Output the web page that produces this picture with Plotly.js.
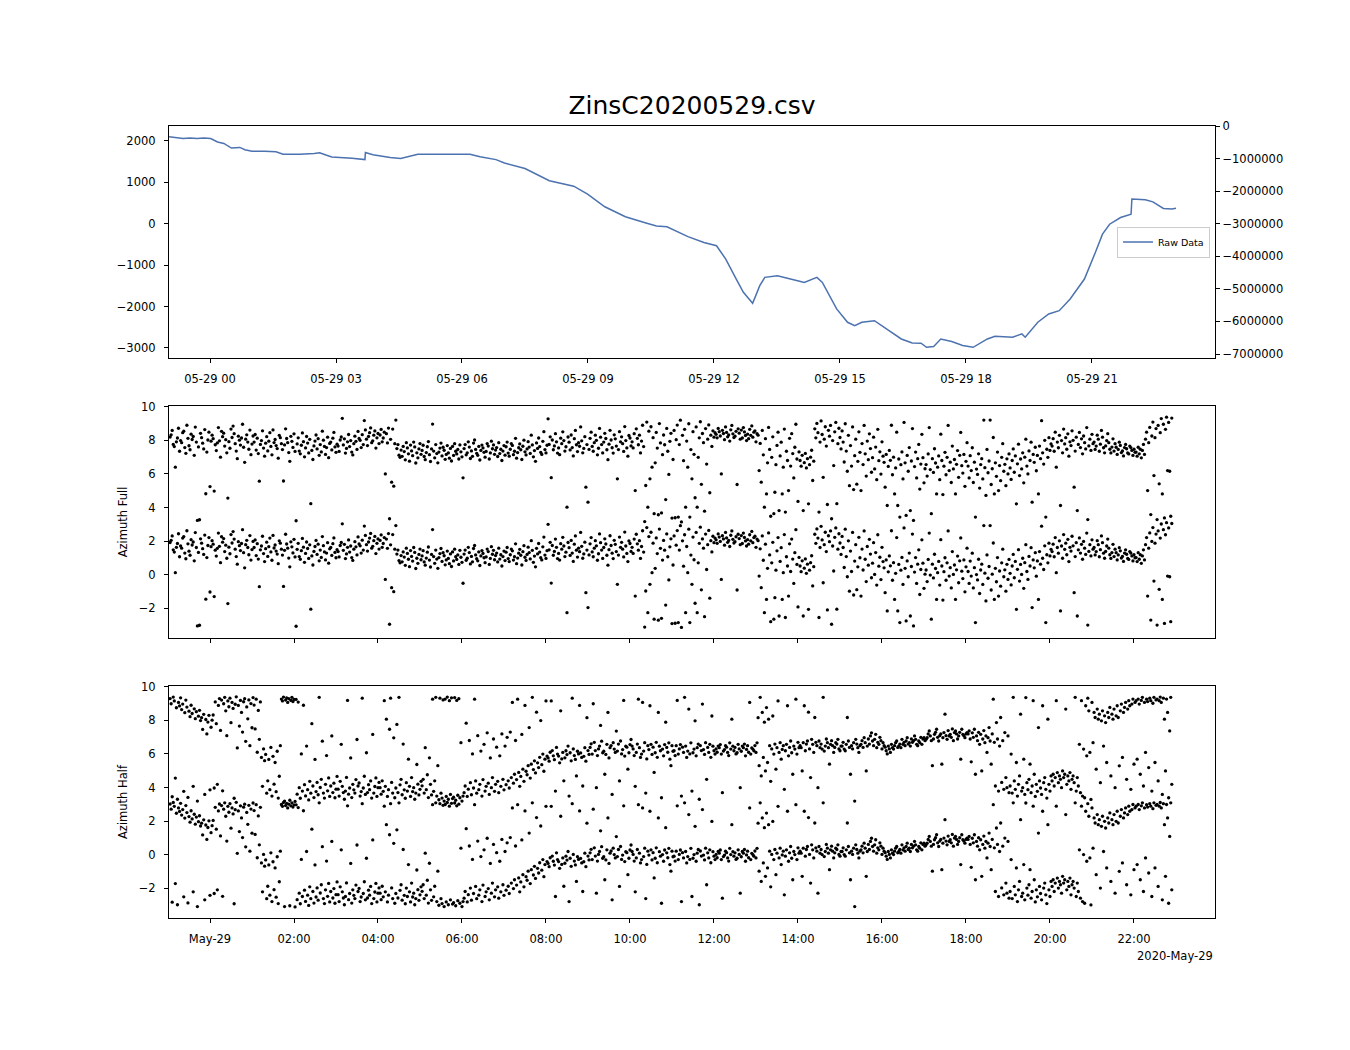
<!DOCTYPE html>
<html><head><meta charset="utf-8">
<script src="https://cdn.plot.ly/plotly-3.0.1.min.js"></script>
<style>body{margin:0;background:#fff}#chart{width:1350px;height:1050px}</style>
</head><body><div id="chart"></div>
<script>
const TITLE = 'ZinsC20200529.csv';
const OFFSET_TEXT = '2020-May-29';

// Raw data line: hours relative to 2020-05-29 00:00, value
const lineHours = [-0.976,-0.8,-0.64,-0.476,-0.31,-0.15,0.017,0.18,0.33,0.51,0.71,0.83,1.0,1.3,1.57,1.74,2.14,2.48,2.61,2.76,2.9,3.38,3.69,3.70,3.88,4.29,4.54,4.95,5.48,6.19,6.43,6.81,7.01,7.5,8.08,8.66,8.99,9.4,9.89,10.07,10.22,10.38,10.63,10.88,11.38,11.67,11.76,12.06,12.28,12.53,12.7,12.92,13.09,13.21,13.51,13.99,14.15,14.45,14.58,14.92,15.18,15.35,15.52,15.82,16.12,16.46,16.72,16.93,17.06,17.23,17.4,17.66,17.92,18.17,18.51,18.69,19.11,19.33,19.41,19.71,19.97,20.22,20.48,20.82,21.08,21.25,21.42,21.68,21.93,21.95,22.27,22.45,22.7,22.9,23.0];
const lineValues = [2100,2085,2060,2075,2060,2070,2060,1976,1940,1830,1845,1790,1755,1750,1738,1680,1680,1700,1715,1660,1615,1580,1550,1720,1670,1600,1575,1680,1680,1680,1620,1550,1470,1334,1040,908,716,411,170,120,60,20,-55,-71,-311,-432,-452,-531,-852,-1335,-1656,-1922,-1495,-1294,-1253,-1374,-1415,-1294,-1415,-2057,-2379,-2460,-2379,-2340,-2540,-2782,-2879,-2886,-2983,-2966,-2782,-2845,-2941,-2983,-2782,-2717,-2741,-2660,-2741,-2379,-2178,-2098,-1816,-1335,-693,-251,-10,152,232,600,578,530,370,360,377];

// Scatter samples: one row per hour, starting 2020-05-28 23:03, one sample every 1.5 min
const sampleStartHour = -0.95;
const sampleStepMin = 1.5;

// Azimuth Full (radians, -pi..pi); plotted at value and value + 2*pi
const fullRows = [
[1.92,2.05,2.31,1.48,1.35,0.12,1.63,1.86,2.44,1.07,1.71,1.58,2.18,2.27,1.29,0.95,2.62,1.84,1.40,1.16,2.09,1.77,1.95,0.83,2.51,1.62,-3.05,1.33,-3.01,2.14,1.88,1.55,1.21,2.36,-1.46,1.02,1.74,2.21,-1.03,1.67],
[2.03,1.82,-1.30,1.46,1.11,1.57,2.48,1.69,0.72,2.26,1.94,2.15,1.38,1.76,0.98,-1.72,1.64,1.25,2.39,1.89,2.57,2.12,1.52,1.08,0.63,1.97,1.73,1.44,1.86,2.68,1.31,0.41,1.79,2.05,1.62,1.19,2.33,0.87,1.50,1.98],
[1.62,2.07,1.14,1.85,0.93,-0.71,1.48,1.71,2.29,1.26,0.78,1.55,1.94,1.09,1.67,2.18,1.36,0.86,2.34,1.59,1.77,1.41,1.23,0.66,2.02,1.88,1.52,1.17,-0.70,1.45,2.41,1.83,1.58,0.99,0.47,1.96,1.66,1.30,2.11,1.06],
[-3.07,1.51,1.87,1.08,0.92,1.43,2.16,1.64,0.74,1.27,1.95,1.56,0.97,1.78,-2.05,1.12,0.58,1.39,1.68,2.04,1.21,1.82,0.83,1.47,1.03,2.27,1.73,1.36,0.88,1.29,1.91,0.69,1.54,1.62,1.15,1.85,2.19,1.33,1.01,1.49],
[1.38,1.06,1.74,1.92,3.03,1.45,1.81,0.96,1.24,1.63,2.07,1.35,1.71,1.02,0.85,1.52,1.97,1.66,1.18,2.25,1.83,1.72,1.29,2.06,1.47,2.90,2.34,1.79,1.41,1.95,2.18,2.46,1.58,1.69,2.03,2.28,1.26,1.87,2.13,1.53],
[2.04,2.37,1.63,1.86,2.21,-0.28,2.12,1.57,2.45,-2.95,1.78,-0.77,2.39,-1.01,1.52,2.93,1.23,1.47,0.84,0.71,1.14,0.77,1.36,1.05,0.56,1.58,1.27,0.92,0.48,1.44,1.09,0.81,1.62,1.33,0.37,0.98,0.68,1.21,1.53,0.89],
[1.12,1.43,0.76,0.57,0.99,1.34,1.65,0.87,0.46,1.21,2.69,1.08,0.68,1.47,0.93,0.38,1.02,1.26,1.56,0.79,1.31,1.13,0.59,0.88,1.41,0.97,0.66,1.24,0.49,1.36,0.82,1.52,1.07,0.91,1.18,0.61,1.45,1.04,0.74,-0.51],
[1.23,1.47,0.86,0.98,1.63,1.32,0.64,1.09,0.77,1.56,1.74,1.18,0.95,0.83,1.36,0.55,1.12,1.44,1.27,1.01,0.72,1.06,1.53,1.38,0.61,0.97,1.67,1.22,1.45,0.89,1.14,1.29,0.76,1.58,0.93,1.19,0.52,1.08,1.41,0.84],
[1.34,1.62,0.96,0.78,1.19,1.53,1.42,0.87,1.07,1.84,0.66,0.99,1.28,1.51,1.16,0.58,1.37,1.73,1.04,0.85,1.21,1.64,1.32,0.94,2.03,1.45,0.74,1.11,0.47,1.57,1.24,1.86,1.35,1.01,0.88,1.66,2.24,1.17,0.97,1.43],
[3.00,1.48,1.93,-0.50,1.74,1.16,1.39,2.12,1.63,0.96,1.27,0.87,1.85,1.52,2.23,1.71,1.08,1.34,-2.26,1.92,1.61,1.15,2.04,1.29,0.79,1.82,2.31,1.46,1.05,1.58,1.37,2.52,1.69,0.98,1.24,1.94,-1.07,1.47,-1.96,1.18],
[1.84,2.21,1.36,1.07,1.58,2.03,1.72,0.86,1.25,2.43,1.91,1.47,0.97,1.62,2.14,1.83,1.16,0.57,1.49,2.32,1.74,1.28,0.96,2.05,1.81,1.38,-0.57,1.17,2.24,1.63,1.93,1.52,1.06,2.54,1.71,1.27,0.78,2.01,1.86,1.39],
[1.63,1.27,2.12,-1.27,2.41,1.84,1.46,2.03,0.97,1.68,2.62,1.35,-3.12,-0.97,2.81,-2.26,2.27,-0.57,2.53,0.12,1.88,-2.65,0.38,2.19,1.26,-2.71,2.72,1.57,-2.60,0.87,2.04,1.46,-1.81,2.43,1.07,-0.31,1.66,2.14,-2.91,0.58],
[2.31,-2.89,1.76,2.63,-2.85,1.47,2.92,-3.14,2.02,0.51,2.38,-2.26,1.68,0.12,2.71,-2.85,1.17,-0.57,2.24,0.89,-1.70,2.52,-2.26,0.71,1.87,2.83,-0.90,2.13,1.58,-2.50,2.42,0.31,1.79,2.64,-1.40,2.03,1.36,2.29,1.91,2.18],
[2.08,1.87,2.43,2.24,1.98,-0.28,2.32,2.13,1.76,2.52,2.19,1.93,2.04,1.68,2.35,2.61,2.11,1.89,1.97,2.26,-0.91,2.41,2.15,1.79,2.33,1.86,2.48,2.22,2.01,1.71,2.09,1.82,2.38,2.02,2.58,1.91,2.21,2.29,1.63,2.12],
[2.03,-0.08,1.54,-0.77,2.31,0.86,-2.26,1.82,-1.47,0.38,2.49,1.18,-2.80,0.71,1.93,-2.65,-1.37,0.27,1.42,2.21,-2.46,0.79,1.61,-1.47,0.12,2.39,-2.55,1.07,0.52,-1.27,1.84,0.19,2.12,0.93,-0.52,1.31,2.68,0.61,-1.92,1.03],
[0.52,0.18,0.83,-2.46,0.39,0.94,0.08,0.63,-2.06,0.27,0.72,1.13,-0.67,0.48,2.41,1.87,2.73,2.18,-2.55,1.62,2.88,2.07,-0.48,1.79,2.53,1.38,-2.10,2.32,1.97,2.61,-2.95,1.71,0.22,2.23,2.79,-2.05,1.52,2.44,1.89,1.21],
[2.28,1.62,0.43,2.71,1.08,-0.12,2.02,-0.98,1.41,0.19,2.52,-1.21,0.81,1.79,-0.89,0.47,2.23,1.01,-1.27,1.53,0.28,2.61,0.92,-0.41,1.68,0.57,2.11,1.23,-0.18,0.69,1.91,0.02,1.32,-0.62,2.38,0.51,1.04,-0.29,1.63,0.78],
[0.41,-1.07,0.88,-2.16,0.17,1.12,0.53,2.62,-0.33,0.72,-1.47,0.08,2.21,-2.16,0.61,-2.85,0.27,1.03,-0.58,2.79,0.38,-2.75,0.82,-0.12,1.29,-2.46,0.49,2.42,-3.05,0.16,1.02,-0.52,0.63,1.48,-1.18,0.31,2.08,0.69,-0.81,0.03],
[0.28,-0.41,0.91,2.48,-0.02,-2.65,0.63,-0.19,1.22,0.37,-1.47,0.12,0.79,-0.62,2.09,0.52,-1.51,0.18,1.01,-0.33,0.71,2.61,-0.08,0.42,-0.79,1.38,0.02,0.58,-1.47,0.29,1.11,-0.48,0.83,2.19,0.21,-0.23,0.88,-1.02,0.47,1.58],
[0.19,-0.52,0.81,-0.08,1.28,-0.79,0.42,-2.85,0.01,-0.31,0.92,-1.12,0.28,0.63,-0.58,2.93,0.09,-1.56,1.18,-0.21,0.49,2.93,-0.91,0.03,1.89,-1.47,0.38,-0.42,1.02,-1.27,0.22,-0.68,0.71,1.52,-0.12,0.29,-0.98,0.62,-0.28,0.91],
[0.08,-0.61,0.52,1.21,-0.18,0.79,-2.06,0.32,1.49,-0.38,0.61,0.02,0.98,-0.81,0.72,1.79,0.19,-0.28,1.09,0.52,1.61,-1.96,0.88,0.41,1.31,-0.09,0.82,-1.47,1.38,0.63,2.89,0.98,0.31,1.72,-2.85,1.19,0.71,1.88,1.12,1.51],
[1.38,1.82,1.07,2.21,0.12,1.62,1.28,2.02,-2.16,1.71,0.98,2.39,1.51,1.88,1.19,2.11,0.78,1.63,1.41,2.29,1.72,-1.07,1.08,1.91,-2.46,1.48,2.19,1.29,1.81,0.92,1.98,1.58,1.21,2.48,-3.00,1.39,1.79,1.12,2.08,1.52],
[1.62,1.18,1.38,2.03,1.79,1.07,1.49,2.31,1.91,1.28,0.98,1.39,1.71,2.12,1.58,1.19,0.97,1.32,1.81,1.08,1.52,1.31,0.88,1.18,1.61,1.42,0.99,1.09,0.79,1.29,1.48,1.22,0.97,0.91,1.38,1.29,1.12,0.82,1.19,1.01],
[1.02,0.78,1.31,0.92,1.19,0.68,1.12,1.48,0.88,1.79,2.21,-1.27,1.58,2.49,-2.70,1.98,2.81,-0.38,1.88,2.42,-3.00,2.61,-0.87,2.18,3.02,-1.47,2.68,-2.90,2.38,3.10,-0.08,2.79,-0.12,-2.80,3.05]
];

// Azimuth Half (radians, -pi..pi); plotted at value and value + 2*pi
const halfRows = [
[3.02,2.71,-2.83,3.11,2.88,-1.72,2.47,-2.98,2.79,2.58,3.06,2.36,2.69,-2.51,2.18,2.93,2.51,-2.87,2.27,1.94,2.62,2.13,-2.21,2.41,1.82,2.24,-3.09,1.97,2.32,1.71,1.88,1.18,2.08,-2.69,1.77,0.91,1.62,2.02,-2.42,1.31],
[1.73,2.04,-2.31,2.82,1.52,-2.09,2.61,3.02,1.12,2.93,-2.48,2.71,3.09,2.29,0.81,2.88,2.53,3.04,1.58,2.79,2.43,-2.92,2.68,3.12,0.08,2.61,1.38,2.91,2.19,1.02,2.83,3.01,0.47,2.52,1.81,2.94,0.21,2.72,1.28,3.08],
[2.63,1.21,2.98,-0.18,2.31,0.59,2.82,-0.49,-2.21,0.02,-0.68,-0.31,-2.62,-1.88,-0.61,-2.41,0.11,-2.79,-0.42,-2.08,-0.79,-2.53,-0.12,-2.91,-1.61,0.21,2.99,2.88,3.11,-3.09,2.93,3.06,2.79,3.01,-3.04,2.91,3.09,2.84,2.97,-3.11],
[2.97,-2.68,2.81,-2.29,-2.92,-0.28,-2.49,2.62,-2.11,-2.78,0.19,-2.41,-3.02,-1.91,-2.62,1.52,-2.19,-2.88,-0.61,-2.52,-1.98,-2.71,3.09,-2.28,-1.79,0.48,-2.61,-2.91,-2.09,-0.38,-2.48,-1.71,-2.81,-2.19,0.79,-2.58,-2.02,-2.89,-2.38,-1.62],
[-2.38,-2.79,-1.91,0.29,-2.21,-2.58,-2.98,-2.49,-1.68,2.91,-2.68,-2.31,-0.52,-2.88,-2.09,-2.42,-2.61,-1.81,0.58,-2.19,-2.01,-2.79,-2.52,3.04,-2.31,-1.61,-2.69,-0.21,-2.58,-2.11,-2.41,-1.89,-2.91,0.88,-2.61,-2.22,-1.71,-2.81,-2.29,-1.98],
[-2.29,-2.68,-1.88,-2.51,2.89,-2.21,1.79,-2.81,-2.41,1.19,3.04,-1.98,-2.61,0.68,-2.89,-2.31,1.48,-2.58,3.09,-2.12,-1.79,-2.71,0.31,-2.42,-2.92,-1.99,-2.49,-0.59,-2.21,-2.81,-1.69,-2.52,-2.29,-2.98,-2.61,-0.91,-2.08,-2.72,-2.39,-1.91],
[-2.18,-1.79,-2.61,0.09,-2.41,-1.52,-2.88,-0.51,-2.09,-2.72,2.98,-2.51,-1.88,3.09,-2.79,-0.98,-3.01,3.04,-2.62,-2.91,2.94,-3.09,2.99,-2.81,3.11,-2.98,2.89,-2.69,3.06,-2.94,-2.86,3.08,-3.04,2.91,-2.74,3.01,-2.89,0.39,-3.09,-2.79],
[-2.59,-2.19,1.55,-2.81,-2.38,0.52,-1.99,-2.71,-0.28,-2.31,2.98,-1.89,-2.62,0.81,-2.41,-2.09,-0.11,-2.79,-1.81,0.29,-2.49,-2.21,0.98,-2.02,-2.69,-0.52,-2.29,-1.69,0.61,-2.51,-2.09,0.12,-1.91,-2.59,-0.39,-2.21,0.91,-1.79,-2.42,0.19],
[-2.11,0.71,-1.88,-2.31,1.02,-1.69,2.79,-2.02,-1.49,0.52,-1.81,2.98,-1.38,-2.21,-1.62,0.88,-1.19,-1.91,2.61,-1.31,-1.52,-0.98,1.29,-1.72,-0.89,3.09,-1.21,-0.69,-1.41,2.21,-0.81,-1.09,-0.48,1.71,-0.92,-0.29,-1.31,-0.59,2.88,-0.41],
[-0.52,-0.71,-0.18,2.88,-0.08,-0.39,-0.62,-2.49,0.11,-0.29,-0.41,-0.81,2.29,-0.58,-0.19,-1.88,-0.51,-0.09,-0.32,0.19,-2.79,-0.21,-0.69,3.04,0.02,-0.38,-0.61,-1.59,-0.12,-0.28,2.61,-0.22,-0.49,-2.19,-0.42,0.09,-0.71,1.88,-0.08,-0.31],
[0.11,0.32,-0.29,2.71,0.41,-0.08,-2.29,-0.38,0.02,0.19,1.42,0.48,-0.21,-0.12,-1.49,-0.31,0.29,2.19,-0.52,0.09,0.22,-2.69,0.39,0.01,-0.19,1.08,-0.11,0.31,-1.89,0.49,-0.28,-0.02,2.91,-0.41,0.18,0.12,-1.19,-0.21,0.28,0.58],
[0.19,0.02,-0.38,-2.21,-0.19,0.31,2.98,0.09,-0.49,-0.29,2.79,-0.11,0.39,-2.61,-0.58,0.21,-0.02,2.59,0.29,-0.31,0.12,-1.38,-0.21,0.41,-0.48,2.19,0.18,-0.09,-2.89,0.01,-0.39,0.28,1.61,0.11,-0.18,0.38,-0.59,-0.98,0.21,-0.12],
[-0.09,-0.38,0.21,2.91,-0.29,0.02,0.28,-2.79,0.12,-0.19,3.09,0.19,-0.49,-0.11,2.39,-0.28,0.38,-2.49,-0.21,0.01,1.69,-0.39,0.09,0.31,-2.98,0.22,-0.08,2.69,-0.02,-0.31,0.39,-1.79,0.11,-0.19,0.29,-0.48,1.98,0.18,-0.09,-0.29],
[0.02,-0.18,0.19,0.09,0.28,-0.29,-2.59,-0.11,-0.02,0.21,0.12,-0.19,-0.38,0.38,0.01,1.79,0.18,-0.09,0.11,-0.28,-0.21,0.29,0.02,-2.29,-0.12,0.19,0.09,0.31,-0.39,-0.01,0.21,-0.18,2.79,-0.29,0.08,0.01,-0.09,0.22,-0.19,0.38],
[1.88,-0.98,3.09,-1.59,2.19,-0.49,1.61,-1.29,2.48,-0.79,1.79,0.21,-1.91,0.02,1.98,-0.29,0.31,-1.19,0.09,2.88,-0.19,0.39,-0.59,-0.01,0.21,-2.39,-0.09,0.29,2.59,-0.39,0.11,0.49,-0.21,-1.49,0.19,0.01,2.98,-0.29,0.41,0.09],
[0.21,0.09,-1.29,0.39,2.59,-0.09,0.31,0.49,2.21,0.02,-1.69,0.59,0.29,-0.19,1.89,0.41,0.21,-2.29,0.49,0.09,0.31,0.01,3.09,-0.11,0.19,0.61,0.39,0.09,-0.89,0.29,0.51,0.21,-0.19,0.11,0.39,0.31,0.59,0.02,-0.09,0.19],
[0.19,0.41,0.01,-0.09,0.29,1.89,0.49,0.11,-1.49,0.21,0.02,0.39,-3.09,0.59,0.31,0.09,-0.19,0.21,0.29,0.51,0.11,0.69,0.39,-1.29,0.19,0.61,0.31,0.79,0.98,0.49,0.21,0.59,0.89,0.09,0.41,0.29,0.71,0.51,0.02,0.39],
[0.21,0.12,-0.09,-0.28,0.19,0.02,-0.19,0.29,0.09,0.01,0.21,0.39,0.49,0.11,0.19,0.31,0.09,0.59,0.29,0.41,0.21,0.49,0.69,0.31,0.39,0.19,0.61,0.41,0.51,0.79,0.59,0.29,0.21,0.49,0.39,0.71,0.29,0.61,0.69,0.51],
[0.59,0.69,0.91,1.09,0.79,0.51,-0.98,0.61,0.89,1.01,1.19,0.71,0.49,0.81,0.91,-0.89,0.69,0.99,2.09,0.81,0.59,1.11,0.79,0.89,0.71,1.21,0.51,0.99,1.09,0.91,0.61,0.79,1.01,-0.59,1.19,0.89,0.81,0.69,0.91,0.99],
[0.91,1.09,0.61,-0.75,0.98,0.71,1.19,-1.49,0.79,0.51,1.01,0.29,0.89,-1.29,0.61,1.11,0.39,0.79,-0.19,0.69,1.29,0.49,-0.89,0.91,2.98,0.41,-2.19,1.59,0.61,-2.49,0.19,1.89,-1.98,0.51,-2.39,0.99,-1.69,-2.29,0.79,-2.59],
[-2.19,-0.29,-2.61,3.09,-1.89,-2.39,-0.79,-2.79,-2.09,-1.59,2.09,-2.49,-2.29,-0.59,-2.69,3.08,-1.99,-2.41,-1.79,-0.89,-2.59,-2.19,2.89,-1.49,-2.81,-2.09,-2.51,1.29,-1.89,-2.31,-2.69,2.59,-1.99,-1.69,-2.39,-2.91,1.79,-2.09,-2.49,-1.59],
[-1.89,-1.49,-2.19,-1.69,2.89,-1.39,-1.99,-1.59,-1.79,-2.29,-1.29,-1.69,-1.49,2.39,-2.09,-1.59,-1.89,-1.39,-2.39,-1.79,-1.59,-1.99,3.09,-2.49,-1.69,-2.19,0.29,-2.59,2.89,-2.79,0.01,-2.89,2.59,-0.39,3.04,2.29,-0.19,-2.99,2.79,0.39],
[2.19,1.89,-1.19,2.39,1.79,2.09,-1.99,1.69,2.29,0.19,1.99,1.59,-0.79,2.19,1.89,2.49,-1.59,2.09,1.79,2.39,-2.29,1.99,2.59,1.89,-0.99,2.29,2.69,-0.49,2.19,2.49,2.79,-1.79,2.39,2.89,2.59,-2.39,2.69,2.99,-0.89,2.79],
[2.89,-0.59,2.99,2.69,-1.49,2.91,3.09,-2.19,2.79,-0.19,2.98,2.84,-1.09,3.04,2.89,-2.49,2.74,3.09,-0.79,2.94,2.99,-1.89,2.89,3.11,2.79,-2.69,3.04,1.79,-1.29,2.99,2.19,-2.89,1.09,3.09,-2.09]
];

const topTickHours = [0,3,6,9,12,15,18,21];
const topTickText = ['05-29 00','05-29 03','05-29 06','05-29 09','05-29 12','05-29 15','05-29 18','05-29 21'];
const bottomTickHours = [0,2,4,6,8,10,12,14,16,18,20,22];
const bottomTickText = ['May-29','02:00','04:00','06:00','08:00','10:00','12:00','14:00','16:00','18:00','20:00','22:00'];
const leftTickVals = [-3000,-2000,-1000,0,1000,2000];
const leftTickText = ['\u22123000','\u22122000','\u22121000','0','1000','2000'];
const rightTickVals = [0,-1000000,-2000000,-3000000,-4000000,-5000000,-6000000,-7000000];
const rightTickText = ['0','\u22121000000','\u22122000000','\u22123000000','\u22124000000','\u22125000000','\u22126000000','\u22127000000'];
const azTickVals = [-2,0,2,4,6,8,10];
const azTickText = ['\u22122','0','2','4','6','8','10'];

const BASE = Date.UTC(2020,4,29,0,0,0);
function toDate(h){ return new Date(BASE + h*3600000).toISOString().slice(0,19).replace('T',' '); }

function expand(rows){
  const xs=[], ys=[];
  rows.forEach((row,k)=>{ row.forEach((v,j)=>{ xs.push(toDate(sampleStartHour + k + j*sampleStepMin/60)); ys.push(v); }); });
  const TWO_PI = 2*Math.PI;
  return {x: xs.concat(xs), y: ys.concat(ys.map(v=>v+TWO_PI))};
}
const full = expand(fullRows), half = expand(halfRows);

const FONT = 'DejaVu Sans, Liberation Sans, sans-serif';
const tf = {family: FONT, size: 11.5, color: '#000'};
const xRange = [toDate(-0.976), toDate(23.929)];

const axBase = {showline:true, linecolor:'#000', linewidth:1.1, mirror:true, ticks:'outside', ticklen:4, tickwidth:1, tickcolor:'#000', showgrid:false, zeroline:false, tickfont: tf};

const traces = [
  {type:'scatter', mode:'lines', name:'Raw Data', x: lineHours.map(toDate), y: lineValues, xaxis:'x', yaxis:'y', line:{color:'#4c72b0', width:1.5}},
  {type:'scatter', mode:'markers', x:[], y:[], xaxis:'x', yaxis:'y2', showlegend:false, hoverinfo:'skip'},
  {type:'scatter', mode:'markers', x: full.x, y: full.y, xaxis:'x2', yaxis:'y3', showlegend:false, marker:{color:'#000', size:3.3}},
  {type:'scatter', mode:'markers', x: half.x, y: half.y, xaxis:'x3', yaxis:'y4', showlegend:false, marker:{color:'#000', size:3.3}}
];

const layout = {
  width:1350, height:1050,
  margin:{l:169, r:135, t:126, b:132},
  paper_bgcolor:'#fff', plot_bgcolor:'#fff',
  font:{family: FONT, color:'#000'},
  title:{text: TITLE, font:{family: FONT, size:25, color:'#000'}, xref:'paper', x:0.5, xanchor:'center', yref:'container', y:1-105/1050, yanchor:'middle'},
  showlegend:true,
  legend:{x:0.9952, xanchor:'right', y:(918-242)/792, yanchor:'middle', bgcolor:'rgba(255,255,255,0.8)', bordercolor:'#cccccc', borderwidth:1, font:{family:FONT, size:9.5, color:'#000'}, itemwidth:30},
  xaxis: Object.assign({}, axBase, {domain:[0,1], anchor:'y', type:'date', range:xRange, tickmode:'array', tickvals: topTickHours.map(toDate), ticktext: topTickText, ticklabelstandoff:6}),
  yaxis: Object.assign({}, axBase, {domain:[(918-358)/792, 1], anchor:'x', range:[-3242, 2362], tickmode:'array', tickvals:leftTickVals, ticktext:leftTickText, ticklabelstandoff:6}),
  yaxis2: Object.assign({}, axBase, {overlaying:'y', side:'right', anchor:'x', mirror:false, range:[-7122800, 0], tickmode:'array', tickvals:rightTickVals, ticktext:rightTickText}),
  xaxis2: Object.assign({}, axBase, {domain:[0,1], anchor:'y3', type:'date', range:xRange, tickmode:'array', tickvals: bottomTickHours.map(toDate), showticklabels:false}),
  yaxis3: Object.assign({}, axBase, {domain:[(918-638)/792, (918-406)/792], anchor:'x2', range:[-3.77, 10.05], tickmode:'array', tickvals:azTickVals, ticktext:azTickText, ticklabelstandoff:6, title:{text:'Azimuth Full', font:tf, standoff:8}}),
  xaxis3: Object.assign({}, axBase, {domain:[0,1], anchor:'y4', type:'date', range:xRange, tickmode:'array', tickvals: bottomTickHours.map(toDate), ticktext: bottomTickText, ticklabelstandoff:6}),
  yaxis4: Object.assign({}, axBase, {domain:[0, (918-686)/792], anchor:'x3', range:[-3.77, 10.05], tickmode:'array', tickvals:azTickVals, ticktext:azTickText, ticklabelstandoff:6, title:{text:'Azimuth Half', font:tf, standoff:8}}),
  annotations:[{text: OFFSET_TEXT, xref:'paper', yref:'paper', x:1, xanchor:'right', y:(918-956)/792, yanchor:'middle', showarrow:false, font:tf}]
};

Plotly.newPlot('chart', traces, layout, {displayModeBar:false, staticPlot:true});
</script>
</body></html>
